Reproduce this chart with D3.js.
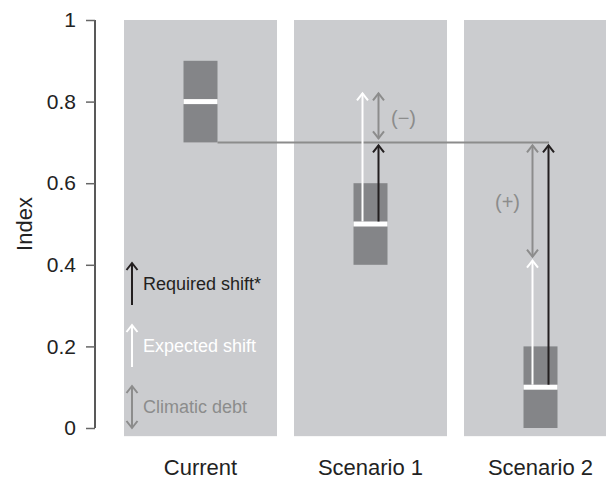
<!DOCTYPE html>
<html><head><meta charset="utf-8">
<script src="https://cdn.jsdelivr.net/npm/d3@7"></script>
<style>body{margin:0;background:#fff}svg{display:block}text{font-family:"Liberation Sans",Arial,Helvetica,sans-serif}</style>
</head><body>
<svg id="c" width="606" height="479"></svg>
<script>
// ---- data ----
const categories = ["Current", "Scenario 1", "Scenario 2"];
const boxLow = [0.7, 0.4, 0.0];
const boxHigh = [0.9, 0.6, 0.2];
const medians = [0.8, 0.5, 0.1];
const targetLevel = 0.7;
const expectedTo = [null, 0.82, 0.41];
const debtFrom = [null, 0.82, 0.41];
const debtTo = [null, 0.7, 0.7];
const debtLabels = ["", "(\u2212)", "(+)"];
const yTicks = [0, 0.2, 0.4, 0.6, 0.8, 1];
const yTickLabels = ["0", "0.2", "0.4", "0.6", "0.8", "1"];
const legendLabels = ["Required shift*", "Expected shift", "Climatic debt"];

// ---- styles ----
const C = {panel:"#cbcccf", box:"#848588", gray:"#8c8c8c", black:"#231f20", text:"#222"};

const svg = d3.select("#c");
const y = d3.scaleLinear().domain([0, 1]).range([428, 20]);
const x = d3.scaleBand().domain(categories).range([124, 617]).paddingInner(0.1).paddingOuter(0);
const bw = x.bandwidth();
const cx = c => x(c) + bw / 2;

// panels
svg.append("g").selectAll("rect").data(categories).join("rect")
  .attr("x", d => x(d)).attr("width", bw)
  .attr("y", y(1)).attr("height", y(-0.02) - y(1))
  .attr("fill", C.panel);

// axis
const axis = d3.axisLeft(y).tickValues(yTicks).tickFormat((d, i) => yTickLabels[i]).tickSize(9).tickPadding(10);
const ag = svg.append("g").attr("transform", "translate(95,0)").call(axis);
ag.select(".domain").attr("d", `M0,${y(0)}V${y(1)}`).attr("stroke", "#222").attr("stroke-width", 1.5);
ag.selectAll(".tick line").attr("stroke", "#666").attr("stroke-width", 1.5);
ag.selectAll(".tick text").attr("font-size", 21).attr("fill", C.text)
  .attr("font-family", '"Liberation Sans",Arial,sans-serif');

svg.append("text").attr("transform", `translate(32,${y(0.5)}) rotate(-90)`)
  .attr("text-anchor", "middle").attr("font-size", 22).attr("fill", C.text).text("Index");

// category labels
svg.append("g").selectAll("text").data(categories).join("text")
  .attr("x", d => cx(d)).attr("y", 475).attr("text-anchor", "middle")
  .attr("font-size", 22).attr("fill", C.text).text(d => d);

// boxes
const boxW = 34;
svg.append("g").selectAll("rect").data(categories).join("rect")
  .attr("x", d => cx(d) - boxW / 2).attr("width", boxW)
  .attr("y", (d, i) => y(boxHigh[i])).attr("height", (d, i) => y(boxLow[i]) - y(boxHigh[i]))
  .attr("fill", C.box);
svg.append("g").selectAll("rect").data(categories).join("rect")
  .attr("x", d => cx(d) - boxW / 2).attr("width", boxW)
  .attr("y", (d, i) => y(medians[i]) - 2.5).attr("height", 5)
  .attr("fill", "#fff");

// target line
const off = 8;
svg.append("line")
  .attr("x1", cx(categories[0]) + boxW / 2).attr("x2", cx(categories[2]) + off + 0.5)
  .attr("y1", y(targetLevel)).attr("y2", y(targetLevel))
  .attr("stroke", C.gray).attr("stroke-width", 2);

// arrow helper
function arrow(g, xp, ys, yt, color, both) {
  const dir = Math.sign(ys - yt);
  const hw = 5.5, hl = 7;
  g.append("line").attr("x1", xp).attr("x2", xp).attr("y1", ys).attr("y2", yt)
    .attr("stroke", color).attr("stroke-width", 2);
  g.append("path").attr("d", `M${xp - hw},${yt + hl * dir}L${xp},${yt}L${xp + hw},${yt + hl * dir}`)
    .attr("fill", "none").attr("stroke", color).attr("stroke-width", 2);
  if (both) {
    g.append("path").attr("d", `M${xp - hw},${ys - hl * dir}L${xp},${ys}L${xp + hw},${ys - hl * dir}`)
      .attr("fill", "none").attr("stroke", color).attr("stroke-width", 2);
  }
}

const ag2 = svg.append("g");
categories.forEach((c, i) => {
  if (expectedTo[i] == null) return;
  const xc = cx(c);
  // expected shift (white)
  arrow(ag2, xc - off, y(medians[i]) - 2.5, y(expectedTo[i]), "#fff", false);
  // required shift (black)
  arrow(ag2, xc + off, y(medians[i]) - 2.5, y(targetLevel) + 3, C.black, false);
  // climatic debt (gray double)
  const up = debtFrom[i] > debtTo[i];
  const dx = up ? xc + off : xc - off;
  const a = y(debtFrom[i]) + (up ? 0 : -4);
  const b = y(debtTo[i]) + (up ? -4 : 3);
  arrow(ag2, dx, a, b, C.gray, true);
  const lx = up ? xc + 33 : xc - 33;
  ag2.append("text").attr("x", lx).attr("y", y((debtFrom[i] + debtTo[i]) / 2))
    .attr("dy", "0.35em").attr("text-anchor", "middle")
    .attr("font-size", 20).attr("fill", C.gray).text(debtLabels[i]);
});

// legend
const lg = svg.append("g");
const legColors = [C.black, "#fff", C.gray];
const legY = [284, 346, 407];
const lx0 = x(categories[0]) + 8;
legendLabels.forEach((t, i) => {
  arrow(lg, lx0, legY[i] + 21, legY[i] - 21, legColors[i], i === 2);
  lg.append("text").attr("x", lx0 + 11).attr("y", legY[i]).attr("dy", "0.35em")
    .attr("font-size", 18).attr("fill", i === 0 ? C.black : legColors[i]).text(t);
});
</script>
</body></html>
